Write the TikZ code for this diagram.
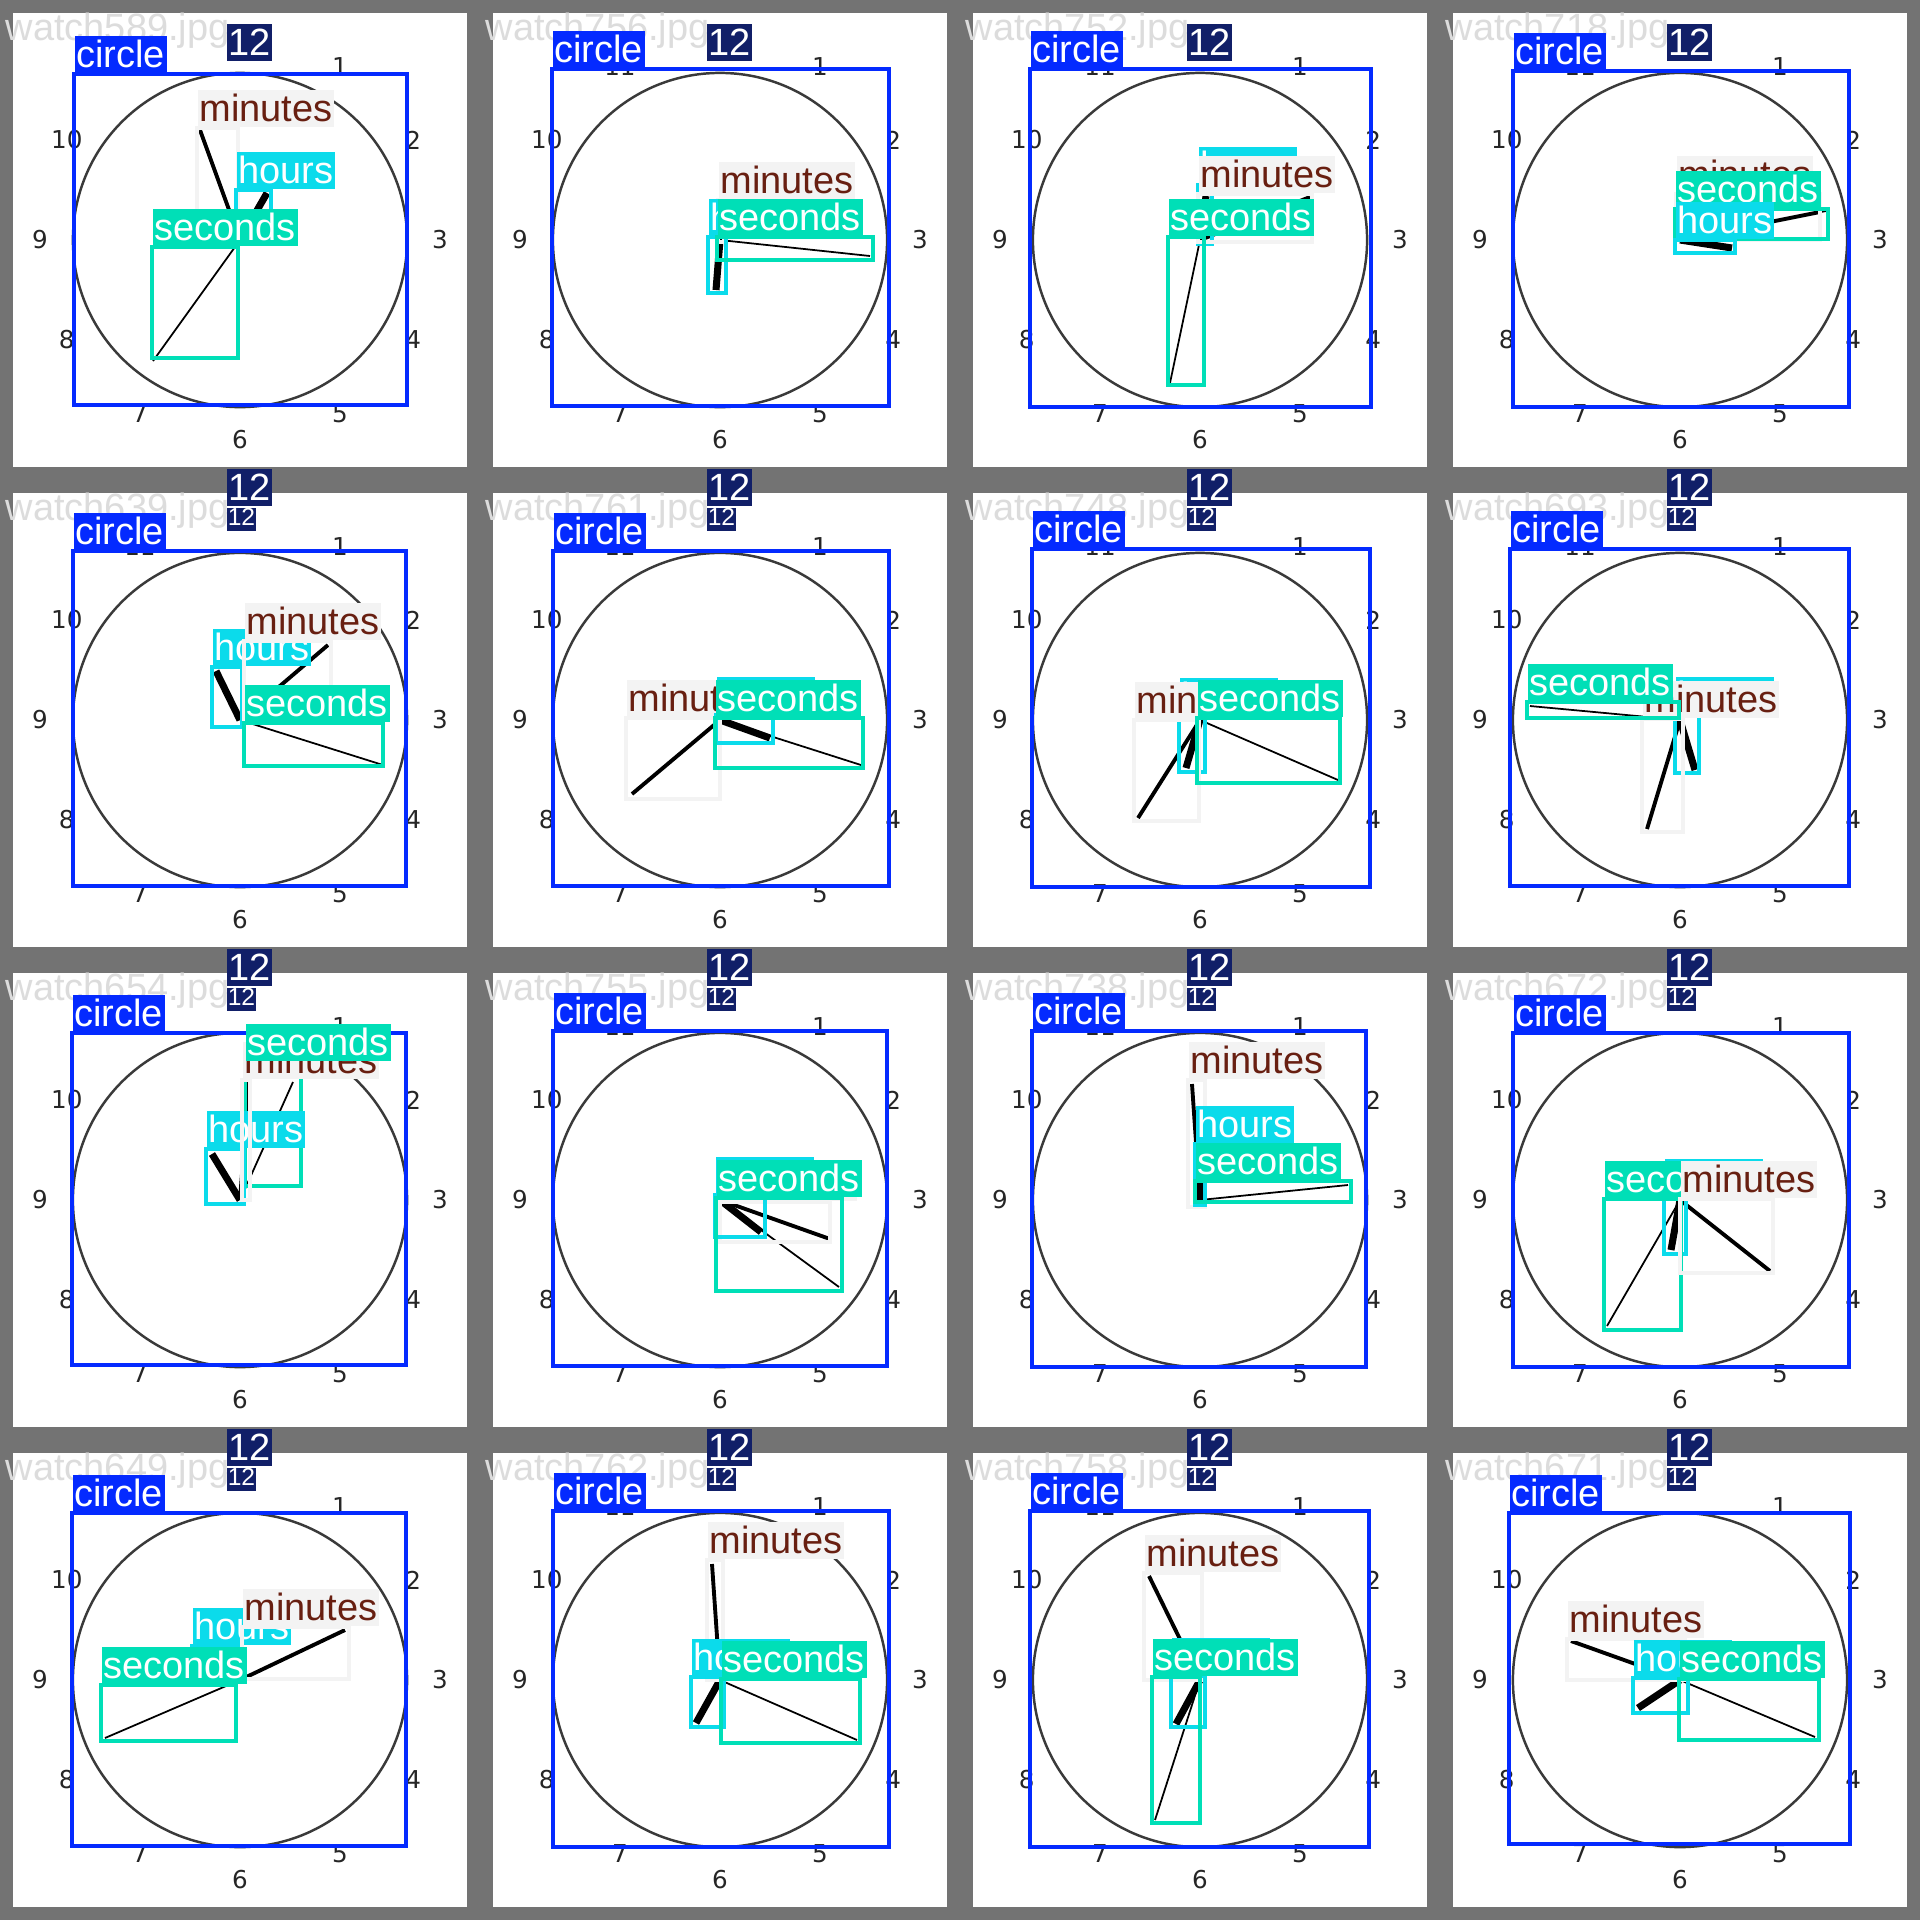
\documentclass[tikz,border=0pt]{standalone}
\usepackage{fontspec}
\setmainfont{Liberation Sans}
\newfontfamily\dejavu{DejaVu Sans}
\usetikzlibrary{positioning}
\definecolor{ylcirc}{HTML}{042AFF}
\definecolor{ylhrs}{HTML}{0BDBEB}
\definecolor{ylmins}{HTML}{F3F3F3}
\definecolor{ylminstxt}{HTML}{681F11}
\definecolor{ylsecs}{HTML}{00DFB7}
\definecolor{yltwelve}{HTML}{111F68}
\definecolor{tileframe}{HTML}{737373}
\definecolor{fnamegray}{HTML}{DCDCDC}
\definecolor{dialgray}{HTML}{3A3A3A}

% detection box, its label, and both
\newcommand{\yolobox}[5]{\draw[#1box] (#2,#3) rectangle (#4,#5);}
\newcommand{\yololab}[5]{\node[#1lab,anchor=south west] (#5) at (#2,#3) {#4};}
\newcommand{\yolodet}[7]{\yolobox{#1}{#2}{#3}{#4}{#5}\yololab{#1}{#2}{#3}{#6}{#7}}
% clock face of one tile: #1 id, #2 file name
\newcommand{\clockface}[2]{%
  \fill[white] (13,13) rectangle (467,467);
  \node[fname,anchor=base west] (file-#1) at (5,40) {#2};
  \draw[dial] (240,240) circle[radius=1.67cm];
  \foreach \n in {1,...,12}
    \node[numtxt] (num\n-#1) at ({240+200*sin(30*\n)},{240-200*cos(30*\n)}) {\n};
  \coordinate (ctr-#1) at (240,240);
}
% hands: #1 id, hour tip, minute tip, second tip
\newcommand{\hands}[7]{%
  \draw[hourhand] (ctr-#1) -- (#2,#3);
  \draw[minhand] (ctr-#1) -- (#4,#5);
  \draw[sechand] (ctr-#1) -- (#6,#7);
}
\newcommand{\twelvetop}[1]{\node[twelvelab,anchor=south west] (tw-#1) at (226,62) {12};}
\newcommand{\twelvelow}[1]{%
  \node[twelvelab,anchor=south west] (tw-#1) at (226,27) {12};
  \node[twelvesmall,anchor=north west] (tws-#1) at (226,27) {12};}

\begin{document}
\begin{tikzpicture}[x=0.01cm,y=-0.01cm,
  lab/.style={inner xsep=0.5pt,inner ysep=0pt,text height=8.9pt,text depth=1.6pt,
    font=\fontsize{10.8pt}{10.8pt}\selectfont},
  circbox/.style={draw=ylcirc,line width=1pt},
  circlab/.style={lab,fill=ylcirc,text=white},
  hrsbox/.style={draw=ylhrs,line width=1pt},
  hrslab/.style={lab,fill=ylhrs,text=white},
  minsbox/.style={draw=ylmins,line width=1pt},
  minslab/.style={lab,fill=ylmins,text=ylminstxt},
  secsbox/.style={draw=ylsecs,line width=1pt},
  secslab/.style={lab,fill=ylsecs,text=white},
  twelvelab/.style={lab,fill=yltwelve,text=white},
  twelvesmall/.style={fill=yltwelve,text=white,inner xsep=0.3pt,inner ysep=0pt,
    text height=5pt,text depth=1.5pt,font=\fontsize{7pt}{7pt}\selectfont},
  fname/.style={inner sep=0pt,text=fnamegray,font=\fontsize{10.8pt}{10.8pt}\selectfont},
  numtxt/.style={inner sep=0pt,text=black!85,font=\dejavu\fontsize{7pt}{7pt}\selectfont},
  dial/.style={draw=dialgray,line width=0.7pt},
  hourhand/.style={line width=2pt},
  minhand/.style={line width=1.1pt},
  sechand/.style={line width=0.5pt}
]
  \useasboundingbox (0,0) rectangle (1920,1920);
  \fill[tileframe] (0,0) rectangle (1920,1920);
  % row 1
  \begin{scope}[shift={(0,0)}]
    \clockface{t1}{watch589.jpg}
    \hands{t1}{267}{193}{200}{130}{153}{361}
    \yolodet{circ}{74}{74}{407}{405}{circle}{circ-t1}
    \yolodet{mins}{197}{128}{238}{240}{minutes}{mins-t1}
    \yolodet{hrs}{236}{190}{271}{243}{hours}{hrs-t1}
    \yolodet{secs}{152}{247}{238}{358}{seconds}{secs-t1}
    \twelvetop{t1}
  \end{scope}
  \begin{scope}[shift={(480,0)}]
    \clockface{t2}{watch756.jpg}
    \hands{t2}{236}{290}{241}{200}{390}{256}
    \yolodet{circ}{72}{69}{409}{406}{circle}{circ-t2}
    \yolodet{mins}{238}{200}{244}{242}{minutes}{mins-t2}
    \yolodet{hrs}{228}{237}{246}{293}{hours}{hrs-t2}
    \yolodet{secs}{237}{237}{393}{260}{seconds}{secs-t2}
    \twelvetop{t2}
  \end{scope}
  \begin{scope}[shift={(960,0)}]
    \clockface{t3}{watch752.jpg}
    \hands{t3}{246}{196}{350}{197}{210}{383}
    \yolodet{circ}{70}{69}{411}{407}{circle}{circ-t3}
    \yolodet{hrs}{238}{185}{252}{244}{hours}{hrs-t3}
    \yolodet{mins}{238}{194}{352}{242}{minutes}{mins-t3}
    \yolodet{secs}{208}{237}{244}{385}{seconds}{secs-t3}
    \twelvetop{t3}
  \end{scope}
  \begin{scope}[shift={(1440,0)}]
    \clockface{t4}{watch718.jpg}
    \hands{t4}{292}{248}{380}{212}{386}{211}
    \yolodet{circ}{73}{71}{409}{407}{circle}{circ-t4}
    \yolodet{mins}{236}{194}{380}{240}{minutes}{mins-t4}
    \yolodet{secs}{235}{209}{388}{239}{seconds}{secs-t4}
    \yolodet{hrs}{235}{240}{295}{253}{hours}{hrs-t4}
    \twelvetop{t4}
  \end{scope}
  % row 2
  \begin{scope}[shift={(0,480)}]
    \clockface{t5}{watch639.jpg}
    \hands{t5}{216}{191}{328}{165}{383}{285}
    \yolodet{circ}{73}{71}{406}{406}{circle}{circ-t5}
    \yolodet{hrs}{212}{187}{242}{247}{hours}{hrs-t5}
    \yolodet{mins}{244}{161}{331}{240}{minutes}{mins-t5}
    \yolodet{secs}{244}{243}{383}{286}{seconds}{secs-t5}
    \twelvelow{t5}
  \end{scope}
  \begin{scope}[shift={(480,480)}]
    \clockface{t6}{watch761.jpg}
    \hands{t6}{290}{258}{152}{314}{381}{285}
    \yolodet{circ}{73}{71}{409}{406}{circle}{circ-t6}
    \yolodet{mins}{146}{238}{240}{319}{minutes}{mins-t6}
    \yolodet{hrs}{236}{235}{293}{263}{hours}{hrs-t6}
    \yolodet{secs}{235}{238}{383}{288}{seconds}{secs-t6}
    \twelvelow{t6}
  \end{scope}
  \begin{scope}[shift={(960,480)}]
    \clockface{t7}{watch748.jpg}
    \hands{t7}{226}{288}{178}{338}{378}{300}
    \yolodet{circ}{72}{69}{410}{407}{circle}{circ-t7}
    \yolodet{hrs}{219}{236}{245}{292}{hours}{hrs-t7}
    \yolodet{mins}{174}{240}{239}{341}{minutes}{mins-t7}
    \yolodet{secs}{237}{238}{380}{303}{seconds}{secs-t7}
    \twelvelow{t7}
  \end{scope}
  \begin{scope}[shift={(1440,480)}]
    \clockface{t8}{watch693.jpg}
    \hands{t8}{255}{290}{207}{349}{90}{226}
    \yolodet{circ}{70}{69}{409}{406}{circle}{circ-t8}
    \yolodet{hrs}{235}{235}{259}{293}{hours}{hrs-t8}
    \yolodet{mins}{202}{239}{243}{352}{minutes}{mins-t8}
    \yolodet{secs}{87}{222}{239}{238}{seconds}{secs-t8}
    \twelvelow{t8}
  \end{scope}
  % row 3
  \begin{scope}[shift={(0,960)}]
    \clockface{t9}{watch654.jpg}
    \hands{t9}{212}{194}{249}{122}{293}{122}
    \yolodet{circ}{72}{73}{406}{405}{circle}{circ-t9}
    \yolobox{secs}{245}{102}{301}{226}
    \yolodet{hrs}{206}{189}{244}{244}{hours}{hrs-t9}
    \yolodet{mins}{242}{120}{250}{240}{minutes}{mins-t9}
    \yololab{secs}{245}{102}{seconds}{secs-t9}
    \twelvelow{t9}
  \end{scope}
  \begin{scope}[shift={(480,960)}]
    \clockface{t10}{watch755.jpg}
    \hands{t10}{281}{272}{350}{279}{359}{327}
    \yolodet{circ}{73}{71}{407}{406}{circle}{circ-t10}
    \yolodet{mins}{240}{242}{350}{282}{minutes}{mins-t10}
    \yolodet{hrs}{235}{235}{285}{277}{hours}{hrs-t10}
    \yolodet{secs}{236}{238}{362}{331}{seconds}{secs-t10}
    \twelvelow{t10}
  \end{scope}
  \begin{scope}[shift={(960,960)}]
    \clockface{t11}{watch738.jpg}
    \hands{t11}{241}{188}{232}{124}{388}{225}
    \yolodet{circ}{72}{71}{406}{407}{circle}{circ-t11}
    \yolodet{mins}{228}{120}{245}{247}{minutes}{mins-t11}
    \yolodet{hrs}{235}{184}{245}{245}{hours}{hrs-t11}
    \yolodet{secs}{235}{221}{391}{242}{seconds}{secs-t11}
    \twelvelow{t11}
  \end{scope}
  \begin{scope}[shift={(1440,960)}]
    \clockface{t12}{watch672.jpg}
    \hands{t12}{231}{290}{330}{311}{167}{366}
    \yolodet{circ}{73}{73}{409}{407}{circle}{circ-t12}
    \yolodet{hrs}{224}{237}{246}{294}{hours}{hrs-t12}
    \yolodet{secs}{164}{239}{241}{370}{seconds}{secs-t12}
    \yolodet{mins}{240}{239}{333}{313}{minutes}{mins-t12}
    \twelvelow{t12}
  \end{scope}
  % row 4
  \begin{scope}[shift={(0,1440)}]
    \clockface{t13}{watch649.jpg}
    \hands{t13}{196}{210}{345}{190}{105}{298}
    \yolodet{circ}{72}{73}{406}{406}{circle}{circ-t13}
    \yolodet{hrs}{192}{206}{242}{242}{hours}{hrs-t13}
    \yolodet{mins}{242}{187}{349}{239}{minutes}{mins-t13}
    \yolodet{secs}{101}{245}{236}{301}{seconds}{secs-t13}
    \twelvelow{t13}
  \end{scope}
  \begin{scope}[shift={(480,1440)}]
    \clockface{t14}{watch762.jpg}
    \hands{t14}{216}{283}{232}{124}{377}{300}
    \yolodet{circ}{73}{71}{409}{407}{circle}{circ-t14}
    \yolodet{mins}{227}{120}{243}{240}{minutes}{mins-t14}
    \yolodet{hrs}{211}{237}{244}{287}{hours}{hrs-t14}
    \yolodet{secs}{241}{239}{380}{303}{seconds}{secs-t14}
    \twelvelow{t14}
  \end{scope}
  \begin{scope}[shift={(960,1440)}]
    \clockface{t15}{watch758.jpg}
    \hands{t15}{216}{284}{189}{136}{195}{380}
    \yolodet{circ}{70}{71}{409}{407}{circle}{circ-t15}
    \yolodet{mins}{184}{133}{242}{240}{minutes}{mins-t15}
    \yolodet{hrs}{211}{236}{245}{287}{hours}{hrs-t15}
    \yolodet{secs}{192}{237}{240}{383}{seconds}{secs-t15}
    \twelvelow{t15}
  \end{scope}
  \begin{scope}[shift={(1440,1440)}]
    \clockface{t16}{watch671.jpg}
    \hands{t16}{198}{268}{131}{201}{375}{297}
    \yolodet{circ}{69}{73}{410}{404}{circle}{circ-t16}
    \yolodet{mins}{127}{199}{245}{240}{minutes}{mins-t16}
    \yolodet{hrs}{193}{238}{248}{273}{hours}{hrs-t16}
    \yolodet{secs}{239}{239}{379}{300}{seconds}{secs-t16}
    \twelvelow{t16}
  \end{scope}
\end{tikzpicture}
\end{document}
